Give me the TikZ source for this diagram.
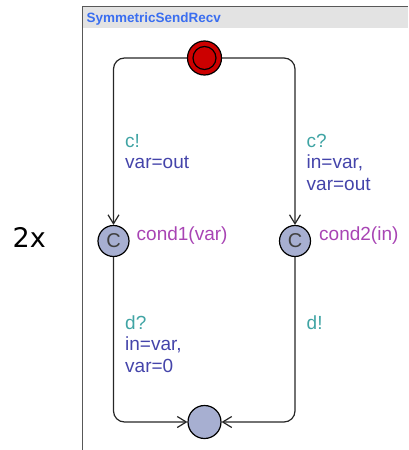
\documentclass[tikz,border=0pt]{standalone}
\usepackage{fontspec}
\setmainfont{Liberation Sans}
\newfontfamily\dejavu{DejaVu Sans}
\usetikzlibrary{arrows.meta, positioning}

\definecolor{syncclr}{HTML}{40A4A4}
\definecolor{assignclr}{HTML}{4444AA}
\definecolor{invclr}{HTML}{A844B4}
\definecolor{locfill}{HTML}{A7AFD1}
\definecolor{initred}{HTML}{CC0000}
\definecolor{titleblue}{HTML}{3A6EF0}
\definecolor{headgray}{HTML}{E3E3E3}
\definecolor{framegray}{HTML}{585858}

\begin{document}
\begin{tikzpicture}[x=1pt, y=-1pt, >={Straight Barb[length=9pt, width=11pt]},
            loc/.style={draw, circle, fill=locfill, minimum size=33pt, inner sep=0pt, line width=1.2pt},
            committed/.style={loc, minimum size=31pt, font=\fontsize{20}{20}\selectfont, text=black!75},
            initloc/.style={loc, fill=initred, minimum size=34pt},
            edge/.style={->, line width=1.2pt, rounded corners=11pt, draw=black!85},
            lbl/.style={anchor=base west, inner sep=0pt, align=left, font=\fontsize{19}{21.5}\selectfont}]

            \useasboundingbox (0,0) rectangle (408,450);

            % ===== template frame =====
            \fill[headgray] (82.5,7) rectangle (408,27.5);
            \draw[framegray, line width=1.5pt] (82.5,450) -- (82.5,6.5) -- (408,6.5);
            \node[anchor=base west, inner sep=0pt, text=titleblue,
                  font=\fontsize{13.5}{13.5}\selectfont\bfseries] (title) at (86.5,22.5) {SymmetricSendRecv};
            \node[anchor=base west, inner sep=0pt, font=\dejavu\fontsize{27}{27}\selectfont] (count) at (12.5,247) {2x};

            % ===== locations =====
            \node[initloc] (init) at (204.5,58) {};
            \draw[line width=1.2pt] (init.center) circle (11.5pt);
            \node[committed] (cond1loc) at (113.5,241) {C};
            \node[committed] (cond2loc) at (295,241) {C};
            \node[loc] (final) at (204.5,422) {};

            \node[lbl, text=invclr] (inv1) at (136.5,240) {cond1(var)};
            \node[lbl, text=invclr] (inv2) at (319,240) {cond2(in)};

            % ===== edges =====
            \draw[edge] (init.west) -| (cond1loc.north);
            \draw[edge] (init.east) -| (cond2loc.north);
            \draw[edge] (cond1loc.south) |- (final.west);
            \draw[edge] (cond2loc.south) |- (final.east);

            % base = last line, so y is the baseline of the bottom line
            \node[lbl] (send1) at (125,168.5) {\textcolor{syncclr}{c!}\\\textcolor{assignclr}{var=out}};
            \node[lbl] (recv1) at (306.5,190) {\textcolor{syncclr}{c?}\\\textcolor{assignclr}{in=var,}\\\textcolor{assignclr}{var=out}};
            \node[lbl] (recv2) at (125,372) {\textcolor{syncclr}{d?}\\\textcolor{assignclr}{in=var,}\\\textcolor{assignclr}{var=0}};
            \node[lbl, text=syncclr] (send2) at (306.5,329) {d!};
\end{tikzpicture}
\end{document}
